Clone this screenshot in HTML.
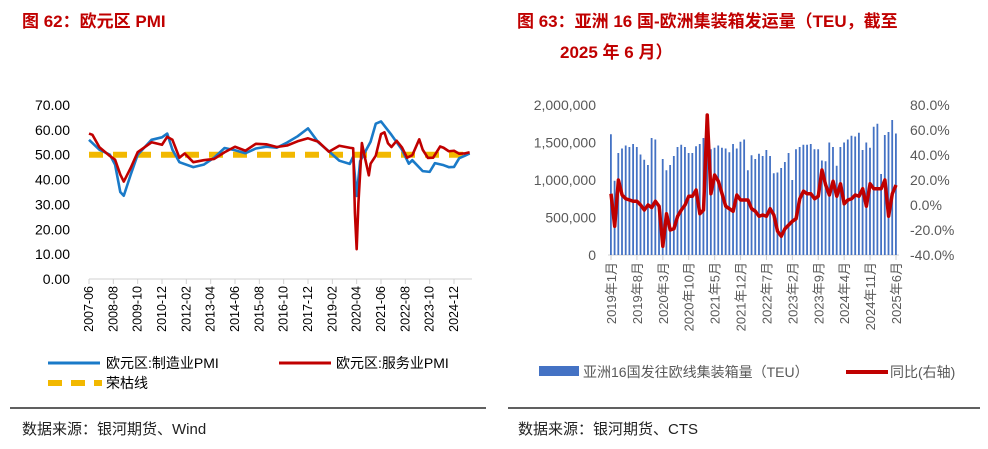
<!DOCTYPE html>
<html><head><meta charset="utf-8">
<style>
html,body{margin:0;padding:0;background:#fff;}
body{width:988px;height:444px;overflow:hidden;font-family:"Liberation Sans","Noto Sans CJK SC",sans-serif;}
svg text{font-family:"Liberation Sans","Noto Sans CJK SC",sans-serif;}
</style></head>
<body>
<svg id="s" width="988" height="444" xmlns="http://www.w3.org/2000/svg">
<text x="22" y="27" font-size="17" font-weight="bold" fill="#c00000">图 62：欧元区 PMI</text>
<text x="517" y="27" font-size="17" font-weight="bold" fill="#c00000">图 63：亚洲 16 国-欧洲集装箱发运量（TEU，截至</text>
<text x="560" y="58" font-size="17" font-weight="bold" fill="#c00000">2025 年 6 月）</text>
<g id="L"></g>
<g id="R"></g>
<line x1="10" y1="408" x2="486" y2="408" stroke="#000" stroke-width="1.3"/>
<line x1="508" y1="408" x2="980" y2="408" stroke="#000" stroke-width="1.3"/>
<text x="22" y="434" font-size="15" fill="#222">数据来源：银河期货、Wind</text>
<text x="518" y="434" font-size="15" fill="#222">数据来源：银河期货、CTS</text>
</svg>
<script>
const NS="http://www.w3.org/2000/svg";
// ---- Left chart data ----
const mfgDates=["2007-06","2007-12","2008-06","2008-09","2008-12","2009-02","2009-06","2009-10","2010-06","2010-12","2011-03","2011-06","2011-10","2012-06","2012-12","2013-06","2013-12","2014-06","2014-12","2015-06","2015-12","2016-06","2016-12","2017-06","2017-12","2018-06","2018-12","2019-06","2019-12","2020-02","2020-04","2020-06","2020-12","2021-03","2021-06","2021-12","2022-06","2022-10","2022-12","2023-06","2023-10","2024-01","2024-06","2024-09","2024-12","2025-03","2025-06","2025-09"];
const mfgVals=[56,52,50,46,35,33.5,42,50,56,57,58.5,52,47,45,46,48.8,52.7,51.8,50.6,52.5,53.2,52.8,54.9,57.4,60.6,54.9,51.4,47.6,46.3,49.2,33.4,47.4,55.2,62.5,63.4,58,52.1,46.4,47.8,43.4,43.1,46.6,45.8,45,45.1,48.6,49.5,50.5];
const svcDates=["2007-06","2007-08","2007-12","2008-06","2008-09","2008-12","2009-02","2009-06","2009-10","2010-06","2010-12","2011-03","2011-06","2011-10","2012-01","2012-06","2012-12","2013-06","2013-12","2014-06","2014-12","2015-06","2015-12","2016-06","2016-12","2017-06","2017-12","2018-06","2018-12","2019-06","2019-12","2020-02","2020-03","2020-04","2020-05","2020-07","2020-09","2020-11","2020-12","2021-03","2021-06","2021-08","2021-10","2021-12","2022-03","2022-06","2022-09","2022-12","2023-04","2023-06","2023-09","2023-12","2024-04","2024-06","2024-09","2024-12","2025-03","2025-06","2025-09"];
const svcVals=[58.5,58,53,49.5,48,42,39.2,44.7,51,55,54,57.2,56,48.8,50.5,47,47.8,48.3,51,53.2,51.6,54.4,54.2,53.1,53.7,55.4,56.6,55.2,51.2,53.6,52.8,52.6,26.4,12,30.5,54.7,48,41.7,46.4,49.6,58.3,59,54.6,53.1,55.6,53,48.8,49.8,56.2,52,48.7,48.8,53.3,52.8,51.4,51.6,50.4,50.5,51];
const leftTicks=["0.00","10.00","20.00","30.00","40.00","50.00","60.00","70.00"];
const leftXLabels=["2007-06","2008-08","2009-10","2010-12","2012-02","2013-04","2014-06","2015-08","2016-10","2017-12","2019-02","2020-04","2021-06","2022-08","2023-10","2024-12"];
const boomBust=50;
// ---- Right chart data ----
const rMonths=[];for(let y=2019;y<=2025;y++)for(let m=1;m<=12;m++){if(y===2025&&m>6)break;rMonths.push(y+"年"+m+"月");}
const teu=[1.61,0.99,1.36,1.42,1.46,1.44,1.48,1.44,1.34,1.27,1.2,1.56,1.54,0.67,1.28,1.13,1.2,1.32,1.44,1.47,1.44,1.36,1.36,1.45,1.48,1.56,1.5,1.41,1.43,1.46,1.43,1.42,1.37,1.48,1.42,1.51,1.54,1.13,1.33,1.28,1.35,1.32,1.4,1.32,1.09,1.1,1.16,1.24,1.36,1.0,1.41,1.44,1.47,1.47,1.48,1.41,1.41,1.26,1.25,1.5,1.44,1.19,1.44,1.5,1.54,1.59,1.58,1.63,1.4,1.5,1.43,1.71,1.75,1.08,1.6,1.64,1.8,1.62];
const yoy=[9,-17,20,8,5,4,3,3,0,-4,0,-2,3,-1,-33,-7,-20,-19,-9,-4,0,7,7,12,-7,-4,72,9,24,19,9,-1,-3,-5,8,4,4,4,-3,-5,-9,-8,-9,-3,-8,-21,-25,-19,-16,-13,-11,5,11,9,9,5,7,28,16,8,19,7,17,1,4,5,8,7,13,-1,17,13,13,13,20,-9,9,16,1].slice(0,78);
const rTicksL=["0","500,000","1,000,000","1,500,000","2,000,000"];
const rTicksR=["-40.0%","-20.0%","0.0%","20.0%","40.0%","60.0%","80.0%"];

function el(p,t,a){const e=document.createElementNS(NS,t);for(const k in a)e.setAttribute(k,a[k]);p.appendChild(e);return e;}
function txt(p,x,y,s,a){const e=el(p,"text",Object.assign({x:x,y:y},a));e.textContent=s;return e;}

// Left chart
const L=document.getElementById("L");
const mIdx=d=>{const [y,m]=d.split("-").map(Number);return (y-2007)*12+(m-6);};
const lx=i=>89+i*365/210;
const ly=v=>279-v*174/70;
leftTicks.forEach(t=>{const e=txt(L,70,ly(parseFloat(t))+5,t,{"font-size":14,"text-anchor":"end",fill:"#000"});

});
const la=el(L,"line",{x1:89,y1:279,x2:472,y2:279,stroke:"#d0d0d0","stroke-width":1});


leftXLabels.forEach(d=>{const x=lx(mIdx(d));
const tk=el(L,"line",{x1:x,y1:279,x2:x,y2:284,stroke:"#d0d0d0"});


const e=txt(L,0,0,d,{"font-size":12.5,"text-anchor":"end",fill:"#000",transform:`translate(${x+4},286) rotate(-90)`});

});
const bb=el(L,"line",{x1:89,y1:ly(boomBust),x2:470,y2:ly(boomBust),stroke:"#f2b800","stroke-width":6,"stroke-dasharray":"14,10"});


const mp=el(L,"polyline",{points:mfgDates.map((d,i)=>lx(mIdx(d))+","+ly(mfgVals[i])).join(" "),fill:"none",stroke:"#1a7ac8","stroke-width":2.6,"stroke-linejoin":"round"});


const sp=el(L,"polyline",{points:svcDates.map((d,i)=>lx(mIdx(d))+","+ly(svcVals[i])).join(" "),fill:"none",stroke:"#c00000","stroke-width":2.6,"stroke-linejoin":"round"});


// left legend
let g=el(L,"g",{});


el(g,"line",{x1:48,y1:363,x2:100,y2:363,stroke:"#1a7ac8","stroke-width":3});
txt(g,106,368,"欧元区:制造业PMI",{"font-size":14,fill:"#000"});
g=el(L,"g",{});


el(g,"line",{x1:279,y1:363,x2:331,y2:363,stroke:"#c00000","stroke-width":3});
txt(g,336,368,"欧元区:服务业PMI",{"font-size":14,fill:"#000"});
g=el(L,"g",{});


el(g,"line",{x1:48,y1:383,x2:102,y2:383,stroke:"#f2b800","stroke-width":6,"stroke-dasharray":"14,9"});
txt(g,106,388,"荣枯线",{"font-size":14,fill:"#000"});

// Right chart
const R=document.getElementById("R");
const rx=i=>611+i*285/77;
const ryL=v=>255-v*150/2;
const ryR=v=>255-(v+40)*150/120;
rTicksL.forEach((t,i)=>{const e=txt(R,596,ryL(i*0.5)+5,t,{"font-size":14,"text-anchor":"end",fill:"#595959"});

});
rTicksR.forEach(t=>{const e=txt(R,910,ryR(parseFloat(t))+5,t,{"font-size":14,fill:"#595959"});

});
const ra=el(R,"line",{x1:608,y1:255,x2:899,y2:255,stroke:"#d0d0d0"});


teu.forEach((v,i)=>{const b=el(R,"rect",{x:rx(i)-1,y:ryL(v),width:1.8,height:255-ryL(v),fill:"#4472c4"});

});
rMonths.forEach((m,i)=>{if(i%7!==0)return;const x=rx(i);
const tk=el(R,"line",{x1:x,y1:255,x2:x,y2:260,stroke:"#d0d0d0"});


const e=txt(R,0,0,m,{"font-size":13,"text-anchor":"end",fill:"#595959",transform:`translate(${x+5},262) rotate(-90)`});

});
const yl=el(R,"polyline",{points:yoy.map((v,i)=>rx(i)+","+ryR(v)).join(" "),fill:"none",stroke:"#c00000","stroke-width":3.5,"stroke-linejoin":"round"});


g=el(R,"g",{});


el(g,"rect",{x:539,y:366,width:40,height:10,fill:"#4472c4"});
txt(g,583,377,"亚洲16国发往欧线集装箱量（TEU）",{"font-size":14,fill:"#595959"});
g=el(R,"g",{});


el(g,"line",{x1:846,y1:372,x2:888,y2:372,stroke:"#c00000","stroke-width":4});
txt(g,890,377,"同比(右轴)",{"font-size":14,fill:"#595959"});
</script>
</body></html>
